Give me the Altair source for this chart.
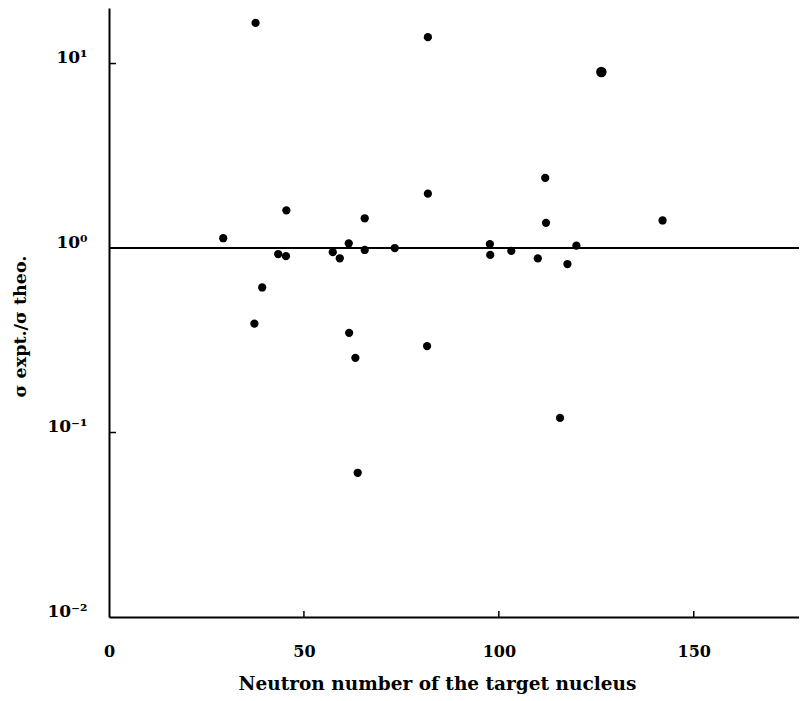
import altair as alt
import pandas as pd

# ---- data ----
neutron_number = [37.6, 81.8, 126.3, 111.9, 81.8, 45.5, 65.6, 112.1, 142.0, 29.3,
                  61.5, 43.4, 45.4, 57.4, 59.2, 65.6, 73.3, 97.7, 97.8, 103.2,
                  110.0, 117.6, 119.9, 39.3, 37.3, 61.6, 63.2, 81.6, 115.7, 63.8]
sigma_ratio = [16.6, 13.9, 9.0, 2.40, 1.97, 1.60, 1.45, 1.37, 1.41, 1.13,
               1.06, 0.928, 0.903, 0.95, 0.88, 0.976, 1.0, 1.05, 0.918, 0.965,
               0.878, 0.819, 1.03, 0.611, 0.389, 0.347, 0.254, 0.294, 0.120, 0.0605]

reference_ratio = [1.0]
x_tick_values = [0, 50, 100, 150]
x_inner_ticks = [50, 100, 150]
y_tick_values = [0.01, 0.1, 1, 10]
y_tick_labels = ["10⁻²", "10⁻¹", "10⁰", "10¹"]
y_inner_ticks = [0.1, 10]

x_title = "Neutron number of the target nucleus"
y_title = "σ expt./σ theo."

# ---- tables ----
points = pd.DataFrame({"n": neutron_number, "ratio": sigma_ratio})
ref = pd.DataFrame({"ratio": reference_ratio})
xt = pd.DataFrame({"n": x_inner_ticks})
yt = pd.DataFrame({"ratio": y_inner_ticks})

W, H = 690, 609
FONT = "DejaVu Serif"

label_expr = " : ".join(
    f"abs(datum.value - {v}) < {v * 0.01} ? '{t}'" for v, t in zip(y_tick_values, y_tick_labels)
) + " : ''"

x_scale = alt.Scale(domain=[0, 177], nice=False, zero=False)
y_scale = alt.Scale(type="log", domain=[0.01, 20], nice=False)

x_axis = alt.Axis(
    values=x_tick_values, ticks=False, tickSize=0, grid=False,
    domainColor="black", domainWidth=2,
    labelFont=FONT, labelFontSize=16, labelFontWeight="bold", labelColor="black",
    labelPadding=34, labelBaseline="middle", labelFlush=False,
    title=x_title, titleFont=FONT, titleFontSize=18.5, titleFontWeight="bold",
    titleColor="black", titleX=328, titleY=66, titleBaseline="middle", titleAlign="center",
)
y_axis = alt.Axis(
    values=y_tick_values, ticks=False, tickSize=0, grid=False,
    domainColor="black", domainWidth=2,
    labelFont=FONT, labelFontSize=17, labelFontWeight="bold", labelColor="black",
    labelPadding=22, labelAlign="right", labelBaseline="middle", labelOffset=-6,
    labelExpr=label_expr, labelFlush=False,
    title=y_title, titleFont=FONT, titleFontSize=17.5, titleFontWeight="bold",
    titleColor="black", titleAngle=270, titleX=-89, titleY=318,
    titleAlign="center", titleBaseline="middle",
)

pts = alt.Chart(points).mark_circle(color="black", opacity=1).encode(
    x=alt.X("n:Q", scale=x_scale, axis=x_axis),
    y=alt.Y("ratio:Q", scale=y_scale, axis=y_axis),
    size=alt.condition("datum.ratio > 5 && datum.n > 120", alt.value(110), alt.value(68)),
)

ref_line = alt.Chart(ref).mark_rule(color="black", strokeWidth=2.2).encode(
    y=alt.Y("ratio:Q"),
)

x_ticks = alt.Chart(xt).mark_rule(color="black", strokeWidth=1.5).encode(
    x=alt.X("n:Q"), y=alt.value(H), y2=alt.value(H - 6),
)
y_ticks = alt.Chart(yt).mark_rule(color="black", strokeWidth=1.5).encode(
    y=alt.Y("ratio:Q"), x=alt.value(0), x2=alt.value(7),
)

chart = alt.layer(ref_line, x_ticks, y_ticks, pts).properties(
    width=W, height=H,
    autosize=alt.AutoSizeParams(type="none"),
    padding={"left": 101, "top": 0, "right": 0, "bottom": 80},
    background="white",
).configure_view(stroke=None)

chart.save("out.html", embed_options={"renderer": "svg", "actions": False})
